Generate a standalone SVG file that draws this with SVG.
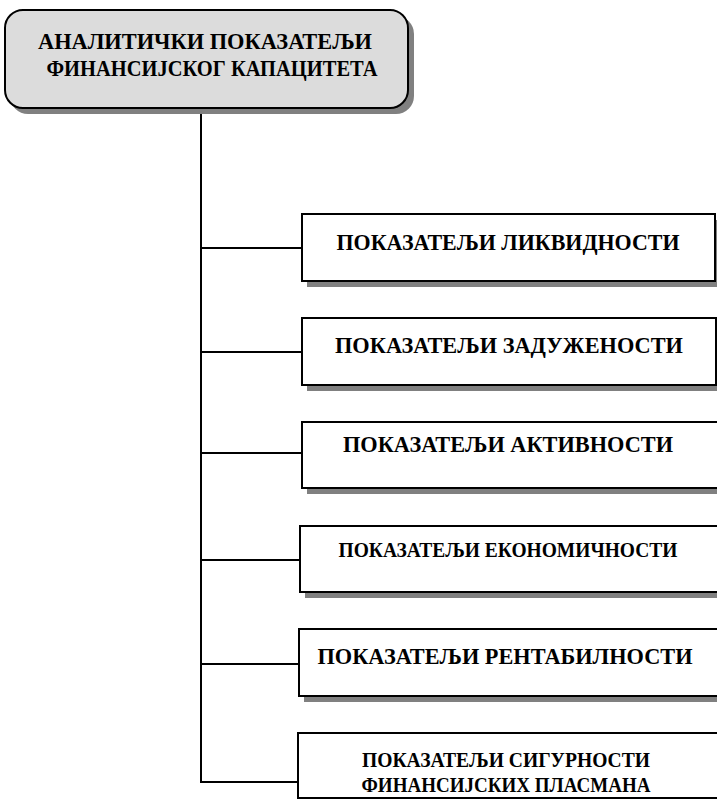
<svg xmlns="http://www.w3.org/2000/svg" width="717" height="800" viewBox="0 0 717 800">
<style>
.t{font-family:"Liberation Serif","DejaVu Serif",serif;font-weight:bold;font-size:23px;fill:#000;text-anchor:middle}
.box{fill:#fff;stroke:#000;stroke-width:2}
.sh{fill:#808080}
.ln{stroke:#000;stroke-width:2;fill:none}
</style>
<rect width="717" height="800" fill="#fff"/>
<g id="connectors">
<line class="ln" x1="201" y1="108" x2="201" y2="783"/>
<line class="ln" x1="200" y1="248" x2="302" y2="248"/>
<line class="ln" x1="200" y1="352" x2="302" y2="352"/>
<line class="ln" x1="200" y1="453" x2="302" y2="453"/>
<line class="ln" x1="200" y1="560" x2="300" y2="560"/>
<line class="ln" x1="200" y1="664" x2="299" y2="664"/>
<line class="ln" x1="200" y1="782" x2="298" y2="782"/>
</g>
<g id="root">
<rect class="sh" x="10" y="16" width="404" height="98" rx="18"/>
<rect x="5" y="10" width="403" height="98" rx="18" fill="#dcdcdc" stroke="#000" stroke-width="2"/>
<text class="t" x="205" y="49" textLength="334" lengthAdjust="spacingAndGlyphs">АНАЛИТИЧКИ ПОКАЗАТЕЉИ</text>
<text class="t" x="212" y="76" textLength="331" lengthAdjust="spacingAndGlyphs">ФИНАНСИЈСКОГ КАПАЦИТЕТА</text>
</g>
<g id="n1">
<rect class="sh" x="307" y="220" width="413" height="67"/>
<rect class="box" x="302" y="214" width="413" height="67"/>
<text class="t" x="508" y="250" textLength="343" lengthAdjust="spacingAndGlyphs">ПОКАЗАТЕЉИ ЛИКВИДНОСТИ</text>
</g>
<g id="n2">
<rect class="sh" x="307" y="324" width="414" height="67"/>
<rect class="box" x="302" y="318" width="414" height="67"/>
<text class="t" x="509" y="353" textLength="348" lengthAdjust="spacingAndGlyphs">ПОКАЗАТЕЉИ  ЗАДУЖЕНОСТИ</text>
</g>
<g id="n3">
<rect class="sh" x="307" y="428" width="420" height="66"/>
<rect class="box" x="302" y="422" width="420" height="66"/>
<text class="t" x="508" y="452" textLength="330" lengthAdjust="spacingAndGlyphs">ПОКАЗАТЕЉИ АКТИВНОСТИ</text>
</g>
<g id="n4">
<rect class="sh" x="305" y="532" width="420" height="66"/>
<rect class="box" x="300" y="526" width="420" height="66"/>
<text class="t" x="508" y="557" style="font-size:21px" textLength="339" lengthAdjust="spacingAndGlyphs">ПОКАЗАТЕЉИ ЕКОНОМИЧНОСТИ</text>
</g>
<g id="n5">
<rect class="sh" x="304" y="635" width="420" height="67"/>
<rect class="box" x="299" y="629" width="420" height="67"/>
<text class="t" x="505" y="664" textLength="375" lengthAdjust="spacingAndGlyphs">ПОКАЗАТЕЉИ РЕНТАБИЛНОСТИ</text>
</g>
<g id="n6">
<rect class="box" x="298" y="733" width="422" height="65"/>
<text class="t" x="506" y="767" style="font-size:22px" textLength="288" lengthAdjust="spacingAndGlyphs">ПОКАЗАТЕЉИ  СИГУРНОСТИ</text>
<text class="t" x="506" y="792" style="font-size:22px" textLength="289" lengthAdjust="spacingAndGlyphs">ФИНАНСИЈСКИХ ПЛАСМАНА</text>
</g>
</svg>
